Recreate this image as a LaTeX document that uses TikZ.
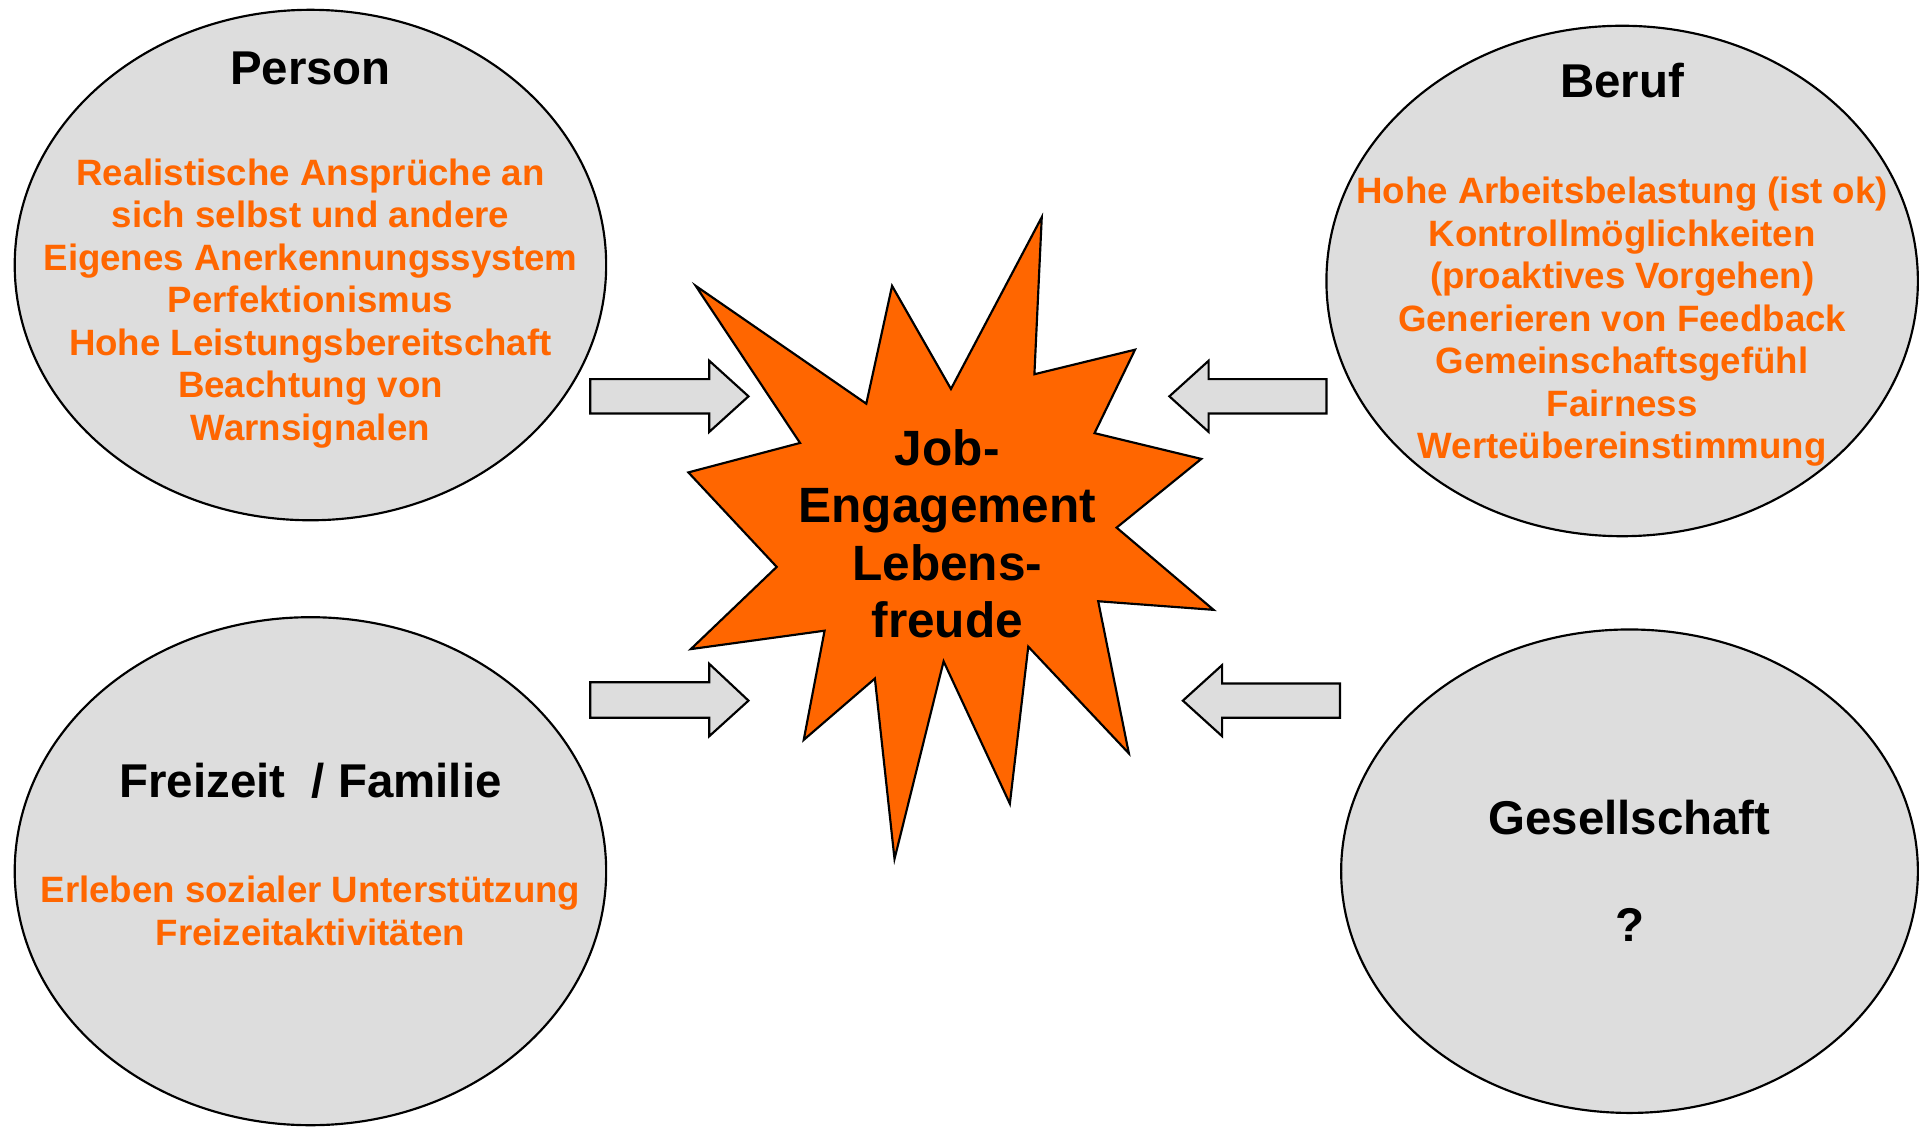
\documentclass[tikz,border=0pt]{standalone}
\usepackage{fontspec}
\setmainfont{Liberation Sans}
\usetikzlibrary{shapes.geometric}
\definecolor{orangetext}{HTML}{FF6600}
\definecolor{areafill}{HTML}{DDDDDD}

\begin{document}
\begin{tikzpicture}[x=0.2mm, y=-0.2mm]
        \tikzstyle{every node}=[inner sep=0pt, text=black, font=\bfseries]
        \tikzstyle{area}=[ellipse, draw=black, line width=1pt, fill=areafill]
        \tikzstyle{title}=[font=\fontsize{22}{25}\selectfont\bfseries]
        \tikzstyle{items}=[font=\fontsize{17}{19.7}\selectfont\bfseries, text=orangetext]
        \tikzstyle{blockarrow}=[draw=black, line width=1pt, fill=areafill]

        \useasboundingbox (0,0) rectangle (1568,918);

        \node[area, minimum width=96.4mm, minimum height=83.2mm] (person) at (253,216)  {};
        \node[area, minimum width=96.4mm, minimum height=83.2mm] (beruf)  at (1322,229) {};
        \node[area, minimum width=96.4mm, minimum height=82.8mm] (freizeit) at (253,710) {};
        \node[area, minimum width=94mm,   minimum height=78.8mm] (gesellschaft) at (1328,710) {};

        \node[title] (person title)   at (253,56)   {Person};
        \node[title] (beruf title)    at (1322,66)  {Beruf};
        \node[title] (freizeit title) at (253,636)  {Freizeit~~/ Familie};
        \node[title] (gesell title)   at (1328,666) {Gesellschaft};
        \node[title] (gesell items)   at (1328,754) {?};

        \node[items] (person items) at (253,248) {\begin{tabular}{c} Realistische Ansprüche an \\ sich selbst und andere \\ Eigenes Anerkennungssystem \\ Perfektionismus \\ Hohe Leistungsbereitschaft \\ Beachtung von \\ Warnsignalen \end{tabular}};
        \node[items] (beruf items)  at (1322,263) {\begin{tabular}{c} Hohe Arbeitsbelastung (ist ok) \\ Kontrollmöglichkeiten \\ (proaktives Vorgehen) \\ Generieren von Feedback \\ Gemeinschaftsgefühl \\ Fairness \\ Werteübereinstimmung \end{tabular}};
        \node[items] (freizeit items) at (253,746) {\begin{tabular}{c} Erleben sozialer Unterstützung \\ Freizeitaktivitäten \end{tabular}};

        % block arrows towards the centre
        \draw[blockarrow] (481,309) -- (578,309) -- (578,294) -- (610,323) -- (578,352) -- (578,337) -- (481,337) -- cycle;
        \draw[blockarrow] (481,556) -- (578,556) -- (578,541) -- (610,571) -- (578,600) -- (578,585) -- (481,585) -- cycle;
        \draw[blockarrow] (1081,309) -- (985,309) -- (985,294) -- (953,323) -- (985,352) -- (985,337) -- (1081,337) -- cycle;
        \draw[blockarrow] (1092,557) -- (996,557) -- (996,542) -- (964,571) -- (996,600) -- (996,585) -- (1092,585) -- cycle;

        % explosion
        \draw[draw=black, line width=1pt, fill=orangetext]
            (567,233) -- (706,329) -- (727,233) -- (775,317) -- (849,177) -- (843,305)
            -- (925,285) -- (892,353) -- (979,374) -- (910,430) -- (989,497) -- (895,490)
            -- (920,614) -- (838,527) -- (823,655) -- (769,539) -- (729,700) -- (713,553)
            -- (655,603) -- (672,514) -- (563,529) -- (633,462) -- (561,385) -- (652,361) -- cycle;

        \node[font=\fontsize{23}{26.6}\selectfont\bfseries] (centre) at (772,440) {\begin{tabular}{c} Job- \\ Engagement \\ Lebens- \\ freude \end{tabular}};
\end{tikzpicture}
\end{document}
